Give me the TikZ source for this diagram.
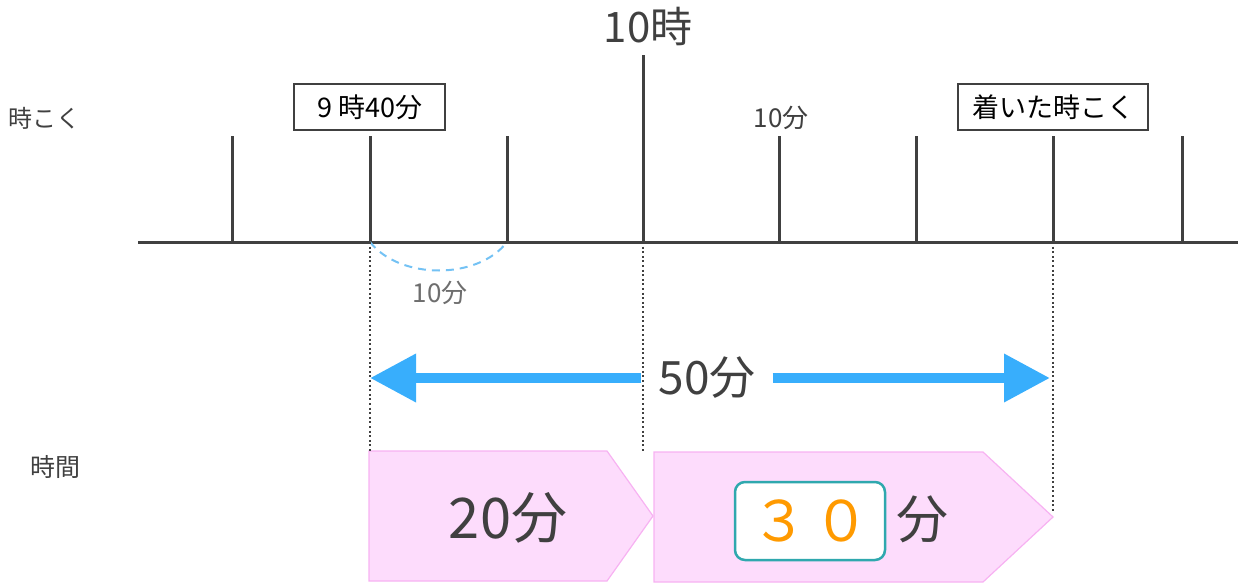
\documentclass[tikz,border=0pt]{standalone}
\usepackage{fontspec}
\setmainfont{Noto Sans CJK JP}
\usetikzlibrary{arrows.meta}
\definecolor{ink}{HTML}{404040}
\definecolor{arrowblue}{HTML}{38AEFC}
\definecolor{arcblue}{HTML}{74C2F4}
\definecolor{pinkfill}{HTML}{FDDCFC}
\definecolor{pinkline}{HTML}{F7B2F2}
\definecolor{tealbox}{HTML}{2FA8AE}
\definecolor{orangetxt}{HTML}{FF9A00}
\definecolor{graytext}{HTML}{6E6E6E}
\newcommand\fsz[1]{\fontsize{#1}{#1}\selectfont}
\tikzset{
  axisline/.style={ink, line width=3pt},
  tickline/.style={ink, line width=3pt},
  guide/.style={ink, line width=2pt, dash pattern=on 2pt off 2.6pt},
  labelbox/.style={draw=ink, line width=2pt, fill=white, inner sep=0pt, minimum height=46pt},
  txt/.style={text=ink, inner sep=0pt},
  timebar/.style={fill=pinkfill, draw=pinkline, line width=1.2pt},
  bigarrow/.style={arrowblue, line width=10pt, -{Triangle[length=46pt,width=46pt]}}
}
\begin{document}
\begin{tikzpicture}[x=1pt,y=-1pt]
\useasboundingbox (0,0) rectangle (1238,583);

% axis
\coordinate (axL) at (138,242);
\coordinate (axR) at (1238,242);
\draw[axisline] (axL) -- (axR);

% ticks
\foreach \n/\x in {t1/232,t2/370,t3/507,t5/779,t6/916,t7/1053,t8/1182}{
  \coordinate (\n b) at (\x,242);
  \coordinate (\n t) at (\x,136);
  \draw[tickline] (\n b) -- (\n t);
}
\coordinate (t4b) at (643,242);
\coordinate (t4t) at (643,55);
\draw[tickline] (t4b) -- (t4t);

% top labels
\node[txt, font=\fsz{42}] (ten) at (648,26) {10時};
\node[labelbox, minimum width=151pt, font=\fsz{27}] (start) at (369.5,107) {9 時40分};
\node[labelbox, minimum width=190pt, font=\fsz{27}] (arrive) at (1053,107) {着いた時こく};
\node[txt, font=\fsz{26}] (tenmin) at (781,118) {10分};
\node[txt, font=\fsz{24}] (jikoku) at (45,118) {時こく};
\node[txt, font=\fsz{25}] (jikan) at (55,467) {時間};

% dashed arc
\draw[arcblue, line width=2pt, dash pattern=on 8pt off 6pt]
  (t2b) .. controls (400,280) and (478,280) .. (t3b);
\node[txt, text=graytext, font=\fsz{26}] (arclbl) at (440,293) {10分};

% pink time bars
\draw[timebar] (369,451) -- (607,451) -- (653,516) -- (607,581) -- (369,581) -- cycle;
\draw[timebar] (654,452) -- (983,452) -- (1053,517) -- (983,582) -- (654,582) -- cycle;

% guides
\coordinate (g1) at (370,451);
\coordinate (g2) at (643,452);
\coordinate (g3) at (1053,511);
\draw[guide] (t2b) -- (g1);
\draw[guide] (t4b) -- (g2);
\draw[guide] (t7b) -- (g3);

% 50 min arrow
\coordinate (aL) at (370,378);
\coordinate (aR) at (1050,378);
\node[txt, font=\fsz{46}, minimum width=131pt, minimum height=40pt] (fifty) at (707,378) {50分};
\draw[bigarrow] (fifty.west) -- (aL);
\draw[bigarrow] (fifty.east) -- (aR);

% bar texts
\node[txt, font=\fsz{56}] (twenty) at (508,518) {20分};
\node[draw=tealbox, line width=2.5pt, fill=white, rounded corners=10pt,
      minimum width=150pt, minimum height=78pt, inner sep=0pt,
      text=orangetxt, font=\fsz{56}] (answer) at (810,521) {３\kern6pt０};
\node[txt, font=\fsz{52}] (fun) at (922,519) {分};
\end{tikzpicture}
\end{document}
